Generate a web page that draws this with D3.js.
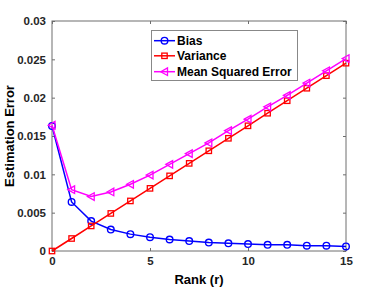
<!DOCTYPE html>
<html><head><meta charset="utf-8">
<script src="https://cdn.jsdelivr.net/npm/d3@7"></script>
<style>body{margin:0;background:#fff}svg{display:block}</style>
</head><body>
<svg id="c" width="382" height="287"></svg>
<script>
const ranks = [0,1,2,3,4,5,6,7,8,9,10,11,12,13,14,15];
const bias = [0.0163,0.0064,0.0039,0.0028,0.0022,0.0018,0.0015,0.0013,0.0011,0.0010,0.0009,0.0008,0.0008,0.0007,0.0007,0.0006];
const variance = [0,0.00163,0.00327,0.0049,0.00653,0.00817,0.0098,0.01143,0.01307,0.0147,0.01633,0.01797,0.0196,0.02123,0.02287,0.0245];
const mse = [0.0164,0.0080,0.0071,0.0077,0.0087,0.0099,0.0113,0.0127,0.0141,0.0157,0.0172,0.0188,0.0203,0.0219,0.0235,0.0251];
const xTicks = [0,5,10,15];
const yTicks = [0,0.005,0.01,0.015,0.02,0.025,0.03];
const seriesNames = ["Bias","Variance","Mean Squared Error"];

const svg = d3.select("#c");
const L=52, R=346, T=21, B=251;
const x = d3.scaleLinear().domain([0,15]).range([L,R]);
const y = d3.scaleLinear().domain([0,0.03]).range([B,T]);
const font = "'Liberation Sans', Arial, sans-serif";
const axc = "#6e6e6e";

// box
svg.append("rect").attr("x",L).attr("y",T).attr("width",R-L).attr("height",B-T)
  .attr("fill","none").attr("stroke",axc).attr("stroke-width",1);

// axes (inward ticks)
const ax = (g) => g.selectAll(".domain").remove();
svg.append("g").attr("transform",`translate(0,${B})`)
  .call(d3.axisBottom(x).tickValues(xTicks).tickSize(-3).tickPadding(6).tickFormat(d3.format("d")))
  .call(ax);
svg.append("g").attr("transform",`translate(0,${T})`)
  .call(d3.axisTop(x).tickValues(xTicks).tickSize(-3).tickFormat(""))
  .call(ax);
svg.append("g").attr("transform",`translate(${L},0)`)
  .call(d3.axisLeft(y).tickValues(yTicks).tickSize(-3).tickPadding(6).tickFormat(d=>d===0?"0":String(+d.toFixed(3))))
  .call(ax);
svg.append("g").attr("transform",`translate(${R},0)`)
  .call(d3.axisRight(y).tickValues(yTicks).tickSize(-3).tickFormat(""))
  .call(ax);
svg.selectAll(".tick line").attr("stroke",axc);
svg.selectAll(".tick text").attr("font-family",font).attr("font-size",11.5)
  .attr("font-weight","bold").attr("fill","#262626");

// titles
svg.append("text").attr("x",(L+R)/2).attr("y",284).attr("text-anchor","middle")
  .attr("font-family",font).attr("font-size",13).attr("font-weight","bold").attr("fill","#000").text("Rank (r)");
svg.append("text").attr("transform",`translate(14,${(T+B)/2}) rotate(-90)`).attr("text-anchor","middle")
  .attr("font-family",font).attr("font-size",13).attr("font-weight","bold").attr("fill","#000").text("Estimation Error");

const line = d3.line().x((d,i)=>x(ranks[i])).y(d=>y(d));
const colors = ["#0000ff","#ff0000","#ff00ff"];
const data = [bias, variance, mse];

function marker(g, type, cx, cy, col){
  if(type===0){
    g.append("circle").attr("cx",cx).attr("cy",cy).attr("r",3.3).attr("fill","none").attr("stroke",col).attr("stroke-width",1.4);
  } else if(type===1){
    g.append("rect").attr("x",cx-2.7).attr("y",cy-2.7).attr("width",5.4).attr("height",5.4).attr("fill","none").attr("stroke",col).attr("stroke-width",1.3);
  } else {
    g.append("path").attr("d",`M${cx-3.8},${cy} L${cx+3},${cy-3.8} L${cx+3},${cy+3.8} Z`).attr("fill","none").attr("stroke",col).attr("stroke-width",1.3);
  }
}

data.forEach((s,k)=>{
  const g = svg.append("g");
  g.append("path").datum(s).attr("d",line).attr("fill","none").attr("stroke",colors[k]).attr("stroke-width",1.5);
  s.forEach((v,i)=>marker(g,k,x(ranks[i]),y(v),colors[k]));
});

// legend
const lg = svg.append("g");
lg.append("rect").attr("x",151.5).attr("y",30.5).attr("width",146).attr("height",50)
  .attr("fill","#fff").attr("stroke","#888").attr("stroke-width",1);
const ly = [40.7,55.8,71.7];
seriesNames.forEach((n,k)=>{
  lg.append("line").attr("x1",154).attr("x2",175).attr("y1",ly[k]).attr("y2",ly[k]).attr("stroke",colors[k]).attr("stroke-width",1.5);
  marker(lg,k,164.5,ly[k],colors[k]);
  lg.append("text").attr("x",177).attr("y",ly[k]+4.2).attr("font-family",font).attr("font-size",12)
    .attr("font-weight","bold").attr("fill","#000").text(n);
});
</script>
</body></html>
